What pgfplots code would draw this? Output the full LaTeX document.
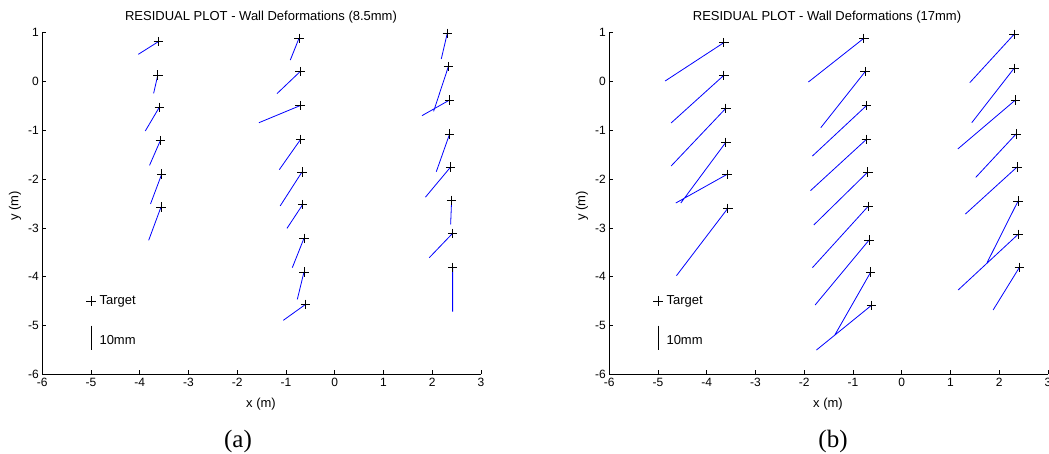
\documentclass[border=0pt]{standalone}
\usepackage{fontspec}
\setmainfont{Liberation Sans}
\newfontfamily\capfont{Liberation Serif}
\usepackage{pgfplots}
\pgfplotsset{compat=1.18}
\usepackage{pgfplotstable}

% ---------- panel (a): targets and residual segments ----------
\pgfplotstableread{
x y
-3.62 0.816
-3.63 0.133
-3.60 -0.529
-3.579 -1.212
-3.55 -1.896
-3.565 -2.572
-0.734 0.885
-0.713 0.201
-0.713 -0.495
-0.70 -1.185
-0.673 -1.855
-0.66 -2.524
-0.632 -3.214
-0.632 -3.904
-0.598 -4.566
2.308 0.987
2.33 0.304
2.356 -0.379
2.356 -1.076
2.377 -1.752
2.397 -2.435
2.418 -3.111
2.418 -3.808
}\targA

\pgfplotstableread{
x y
-3.62 0.816
-4.03 0.557
nan nan
-3.63 0.133
-3.716 -0.242
nan nan
-3.60 -0.529
-3.887 -1.014
nan nan
-3.579 -1.212
-3.80 -1.718
nan nan
-3.55 -1.896
-3.78 -2.51
nan nan
-3.565 -2.572
-3.818 -3.255
nan nan
-0.734 0.885
-0.912 0.44
nan nan
-0.713 0.201
-1.186 -0.249
nan nan
-0.713 -0.495
-1.555 -0.844
nan nan
-0.70 -1.185
-1.138 -1.807
nan nan
-0.673 -1.855
-1.12 -2.55
nan nan
-0.66 -2.524
-0.98 -3.009
nan nan
-0.632 -3.214
-0.871 -3.815
nan nan
-0.632 -3.904
-0.768 -4.464
nan nan
-0.598 -4.566
-1.056 -4.894
nan nan
2.308 0.987
2.185 0.461
nan nan
2.33 0.304
2.028 -0.611
nan nan
2.356 -0.379
1.789 -0.70
nan nan
2.356 -1.076
2.083 -1.848
nan nan
2.377 -1.752
1.86 -2.37
nan nan
2.397 -2.435
2.377 -2.927
nan nan
2.418 -3.111
1.939 -3.61
nan nan
2.418 -3.808
2.418 -4.717
}\segA

% ---------- panel (b): targets and residual segments ----------
\pgfplotstableread{
x y
-3.651 0.796
-3.651 0.126
-3.61 -0.55
-3.61 -1.247
-3.583 -1.902
-3.569 -2.599
-0.779 0.885
-0.752 0.201
-0.725 -0.495
-0.725 -1.185
-0.697 -1.855
-0.69 -2.558
-0.67 -3.248
-0.636 -3.904
-0.622 -4.587
2.304 0.967
2.304 0.27
2.332 -0.379
2.345 -1.076
2.366 -1.752
2.386 -2.449
2.386 -3.132
2.414 -3.808
}\targB

\pgfplotstableread{
x y
-3.651 0.796
-4.855 0.01
nan nan
-3.651 0.126
-4.732 -0.85
nan nan
-3.61 -0.55
-4.732 -1.732
nan nan
-3.61 -1.247
-4.533 -2.49
nan nan
-3.583 -1.902
-4.636 -2.49
nan nan
-3.569 -2.599
-4.622 -3.979
nan nan
-0.779 0.885
-1.915 -0.01
nan nan
-0.752 0.201
-1.661 -0.946
nan nan
-0.725 -0.495
-1.833 -1.527
nan nan
-0.725 -1.185
-1.873 -2.237
nan nan
-0.697 -1.855
-1.805 -2.94
nan nan
-0.69 -2.558
-1.833 -3.815
nan nan
-0.67 -3.248
-1.778 -4.58
nan nan
-0.636 -3.904
-1.374 -5.195
nan nan
-0.622 -4.587
-1.75 -5.502
nan nan
2.304 0.967
1.395 -0.024
nan nan
2.304 0.27
1.436 -0.844
nan nan
2.332 -0.379
1.149 -1.383
nan nan
2.345 -1.076
1.518 -1.964
nan nan
2.366 -1.752
1.306 -2.715
nan nan
2.386 -2.449
1.75 -3.712
nan nan
2.386 -3.132
1.156 -4.273
nan nan
2.414 -3.808
1.874 -4.682
}\segB

\pgfplotsset{
  resid/.style={
    scale only axis, width=438.7pt, height=341.6pt,
    xmin=-6, xmax=3, ymin=-6, ymax=1,
    axis x line=bottom, axis y line=left,
    axis line style={-, line width=0.8pt, black},
    tick align=inside, major tick length=4pt,
    tick style={black, line width=0.8pt},
    xtick={-6,-5,-4,-3,-2,-1,0,1,2,3},
    ytick={-6,-5,-4,-3,-2,-1,0,1},
    xticklabels={-6,-5,-4,-3,-2,-1,0,1,2,3},
    yticklabels={-6,-5,-4,-3,-2,-1,0,1},
    ticklabel style={font=\fontsize{12}{14}\selectfont},
    clip=false,
    unbounded coords=jump,
  },
  resline/.style={color={rgb,255:red,0;green,0;blue,255}, line width=0.8pt},
  tgt/.style={only marks, mark=+, mark size=4.7pt, black, line width=0.7pt},
}

\begin{document}
\begin{tikzpicture}
\useasboundingbox (0,0) rectangle (1049pt,453pt);

\begin{axis}[resid, at={(42.3pt,78.7pt)}, anchor=south west]
  \addplot[resline] table {\segA};
  \addplot[tgt] table {\targA};
  \addplot[tgt] coordinates {(-5,-4.5)};
  \addplot[black, line width=0.8pt] coordinates {(-5,-5) (-5,-5.5)};
  \node[anchor=west, font=\fontsize{13}{15}\selectfont, inner sep=0pt] at (axis cs:-4.83,-4.5) {Target};
  \node[anchor=west, font=\fontsize{13}{15}\selectfont, inner sep=0pt] at (axis cs:-4.83,-5.3) {10mm};
\end{axis}

\begin{axis}[resid, at={(609.3pt,78.7pt)}, anchor=south west]
  \addplot[resline] table {\segB};
  \addplot[tgt] table {\targB};
  \addplot[tgt] coordinates {(-5,-4.5)};
  \addplot[black, line width=0.8pt] coordinates {(-5,-5) (-5,-5.5)};
  \node[anchor=west, font=\fontsize{13}{15}\selectfont, inner sep=0pt] at (axis cs:-4.83,-4.5) {Target};
  \node[anchor=west, font=\fontsize{13}{15}\selectfont, inner sep=0pt] at (axis cs:-4.83,-5.3) {10mm};
\end{axis}

% titles
\node[anchor=base, font=\fontsize{13}{15}\selectfont] at (261pt,432pt) {RESIDUAL PLOT - Wall Deformations (8.5mm)};
\node[anchor=base, font=\fontsize{13}{15}\selectfont] at (827pt,432pt) {RESIDUAL PLOT - Wall Deformations (17mm)};
% axis labels
\node[anchor=base, font=\fontsize{13}{15}\selectfont] at (261pt,46pt) {x (m)};
\node[anchor=base, font=\fontsize{13}{15}\selectfont] at (828pt,46pt) {x (m)};
\node[rotate=90, font=\fontsize{13}{15}\selectfont] at (15pt,247pt) {y (m)};
\node[rotate=90, font=\fontsize{13}{15}\selectfont] at (582pt,247pt) {y (m)};
% captions
\node[font=\capfont\fontsize{25}{28}\selectfont] at (238pt,12pt) {(a)};
\node[font=\capfont\fontsize{25}{28}\selectfont] at (833pt,12pt) {(b)};
\end{tikzpicture}
\end{document}
